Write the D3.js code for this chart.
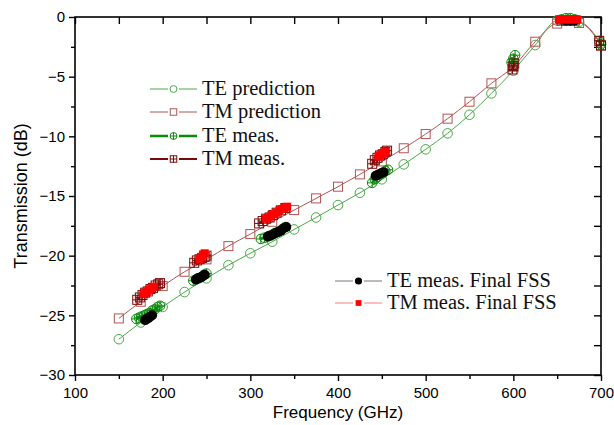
<!DOCTYPE html>
<html>
<head>
<meta charset="utf-8">
<script src="https://cdn.jsdelivr.net/npm/d3@7"></script>
<style>
  body { margin: 0; background: #fff; }
</style>
</head>
<body>
<svg id="chart" width="614" height="425"></svg>
<script>
// prediction curves (simulated), every 25 GHz
var predFreq = [150,175,200,225,250,275,300,325,350,375,400,425,450,475,500,525,550,575,600,625,650,675,700];
var tePred = [-27.0,-25.6,-24.3,-23.05,-21.9,-20.8,-19.8,-18.83,-17.8,-16.8,-15.76,-14.73,-13.6,-12.35,-11.09,-9.75,-8.19,-6.4,-4.5,-2.35,-0.3,-0.4,-2.2];
var tmPred = [-25.26,-23.86,-22.55,-21.35,-20.31,-19.2,-18.19,-17.16,-16.18,-15.2,-14.22,-13.19,-12.1,-11.0,-9.81,-8.52,-7.1,-5.56,-4.17,-2.07,-0.55,-0.5,-2.35];

// measured bands
var teMeasFreq = [170,173,176,179,182,185,188,191,194,197, 235,238,241,244,247,250, 312,316,320,324,328,332,336,340, 439,442,445,448,451,454,457, 598,600,602, 655,660,665,670, 698,700];
var teMeasVal  = [-25.3,-25.2,-25.1,-25.0,-24.9,-24.8,-24.6,-24.5,-24.3,-24.2, -22.1,-22.0,-21.9,-21.8,-21.6,-21.5, -18.6,-18.5,-18.4,-18.3,-18.1,-18.0,-17.8,-17.6, -13.9,-13.6,-13.4,-13.2,-13.1,-12.9,-12.8, -3.8,-3.5,-3.2, -0.2,-0.1,-0.1,-0.2, -2.0,-2.3];
var tmMeasFreq = [171,174,177,180,183,186,189,192,195,197, 236,239,242,245,248,250, 310,314,318,322,326,330,335,340, 439,442,445,448,451,454,456, 599,600,601, 655,660,665,670, 698,700];
var tmMeasVal  = [-23.7,-23.5,-23.3,-23.1,-23.0,-22.8,-22.7,-22.5,-22.4,-22.3, -20.6,-20.4,-20.3,-20.2,-20.1,-20.0, -17.3,-17.1,-16.9,-16.8,-16.6,-16.4,-16.2,-16.0, -12.3,-12.0,-11.8,-11.6,-11.5,-11.3,-11.2, -4.4,-4.1,-3.9, -0.3,-0.3,-0.3,-0.3, -2.0,-2.4];

// final FSS measurements
var teFinalFreq = [180,182,184,186,188, 238,240,242,244,246,248, 320,323,326,329,332,335,338,341, 443,446,449,452, 660,665,670];
var teFinalVal  = [-25.4,-25.3,-25.2,-25.1,-25.0, -22.0,-21.9,-21.85,-21.8,-21.7,-21.6, -18.4,-18.3,-18.2,-18.1,-18.0,-17.9,-17.7,-17.6, -13.3,-13.2,-13.1,-13.0, -0.3,-0.3,-0.3];
var tmFinalFreq = [178,180,182,184,186,188,190, 242,244,246,248, 318,321,324,327,330,333,336,339,342, 446,448,450,452,454, 652,655,658,661,664,667,670,673];
var tmFinalVal  = [-23.2,-23.1,-23.0,-22.9,-22.8,-22.7,-22.6, -20.3,-20.1,-19.9,-19.8, -16.9,-16.8,-16.6,-16.5,-16.4,-16.2,-16.1,-16.0,-15.9, -11.7,-11.6,-11.5,-11.4,-11.3, -0.2,-0.2,-0.2,-0.2,-0.2,-0.2,-0.2,-0.2];

var xTicks = [100,200,300,400,500,600,700];
var xMinor = [150,250,350,450,550,650];
var yTicks = [-30,-25,-20,-15,-10,-5,0];
var yMinor = [-27.5,-22.5,-17.5,-12.5,-7.5,-2.5];

var svg = d3.select("#chart");
var x = d3.scaleLinear().domain([100,700]).range([75,601]);
var y = d3.scaleLinear().domain([-30,0]).range([375,17]);

var sans = "'Liberation Sans', Arial, sans-serif";
var serif = "'Liberation Serif', 'Times New Roman', serif";

// axes
function styleAxis(g){
  g.select(".domain").remove();
  g.selectAll("line").attr("stroke","#000").attr("stroke-width",1.4);
  g.selectAll("text").attr("font-family",sans).attr("font-size","15px").attr("fill","#000");
}
svg.append("g").attr("transform","translate(0,375)")
  .call(d3.axisBottom(x).tickValues(xTicks).tickSize(6).tickPadding(6).tickFormat(d3.format("d")))
  .call(styleAxis);
svg.append("g").attr("transform","translate(0,375)")
  .call(d3.axisBottom(x).tickValues(xMinor).tickSize(4).tickFormat(""))
  .call(styleAxis);
svg.append("g").attr("transform","translate(75,0)")
  .call(d3.axisLeft(y).tickValues(yTicks).tickSize(6).tickPadding(4).tickFormat(d3.format("d")))
  .call(styleAxis);
svg.append("g").attr("transform","translate(75,0)")
  .call(d3.axisLeft(y).tickValues(yMinor).tickSize(4).tickFormat(""))
  .call(styleAxis);
svg.append("g").attr("transform","translate(0,17)")
  .call(d3.axisTop(x).tickValues(xTicks.concat(xMinor)).tickSize(-7).tickFormat(""))
  .call(styleAxis);
svg.append("g").attr("transform","translate(601,0)")
  .call(d3.axisRight(y).tickValues(yTicks.concat(yMinor)).tickSize(-7).tickFormat(""))
  .call(styleAxis);

svg.append("rect").attr("x",75).attr("y",17).attr("width",526).attr("height",358)
  .attr("fill","none").attr("stroke","#000").attr("stroke-width",1.6);

svg.append("text").attr("transform","translate(27,196) rotate(-90)")
  .attr("text-anchor","middle").attr("font-family",sans).attr("font-size","18px")
  .text("Transmission (dB)");
svg.append("text").attr("x",338).attr("y",418)
  .attr("text-anchor","middle").attr("font-family",sans).attr("font-size","17px")
  .text("Frequency (GHz)");

// markers (k scales the size, legend markers are smaller)
function openCircle(g, cx, cy, c, k){
  g.append("circle").attr("cx",cx).attr("cy",cy).attr("r",4.8*k)
    .attr("fill","none").attr("stroke",c).attr("stroke-width",1);
}
function openSquare(g, cx, cy, c, k){
  var h = 4.5*k;
  g.append("rect").attr("x",cx-h).attr("y",cy-h).attr("width",2*h).attr("height",2*h)
    .attr("fill","none").attr("stroke",c).attr("stroke-width",1);
}
function crossCircle(g, cx, cy, c, k){
  var h = 4.8*k;
  openCircle(g, cx, cy, c, k);
  g.append("path").attr("d","M"+(cx-h)+","+cy+"h"+(2*h)+"M"+cx+","+(cy-h)+"v"+(2*h))
    .attr("stroke",c).attr("stroke-width",1);
}
function crossSquare(g, cx, cy, c, k){
  var h = 4.5*k;
  openSquare(g, cx, cy, c, k);
  g.append("path").attr("d","M"+(cx-h)+","+cy+"h"+(2*h)+"M"+cx+","+(cy-h)+"v"+(2*h))
    .attr("stroke",c).attr("stroke-width",1);
}
function dot(g, cx, cy, c, k){
  g.append("circle").attr("cx",cx).attr("cy",cy).attr("r",5*k).attr("fill",c);
}
function block(g, cx, cy, c, k){
  var h = 4*k;
  g.append("rect").attr("x",cx-h).attr("y",cy-h).attr("width",2*h).attr("height",2*h).attr("fill",c);
}

// split into bands where the frequency jumps by more than gap
function bands(fs, vs, gap){
  var out = [], cur = [];
  for (var i = 0; i < fs.length; i++){
    if (i > 0 && fs[i] - fs[i-1] > gap){ out.push(cur); cur = []; }
    cur.push([fs[i], vs[i]]);
  }
  out.push(cur);
  return out;
}

function drawSeries(fs, vs, gap, lineColor, lineWidth, markColor, marker, curve){
  var g = svg.append("g");
  var line = d3.line().x(function(d){ return x(d[0]); }).y(function(d){ return y(d[1]); });
  if (curve) line.curve(curve);
  bands(fs, vs, gap).forEach(function(b){
    g.append("path").attr("d", line(b)).attr("fill","none")
      .attr("stroke", lineColor).attr("stroke-width", lineWidth);
  });
  fs.forEach(function(f, i){ marker(g, x(f), y(vs[i]), markColor, 1); });
}

var cTePred = "#4aa84a", cTmPred = "#b05552";
var cTeMeas = "#0a8a0a", cTmMeas = "#7a0a0a";

drawSeries(predFreq, tePred, 1000, cTePred, 1, cTePred, openCircle, d3.curveMonotoneX);
drawSeries(predFreq, tmPred, 1000, cTmPred, 1, cTmPred, openSquare, d3.curveMonotoneX);
drawSeries(teMeasFreq, teMeasVal, 20, cTeMeas, 2, cTeMeas, crossCircle);
drawSeries(tmMeasFreq, tmMeasVal, 20, cTmMeas, 2, cTmMeas, crossSquare);
drawSeries(teFinalFreq, teFinalVal, 20, "#777", 1, "#000", dot);
drawSeries(tmFinalFreq, tmFinalVal, 20, "#f08080", 1, "#ff0000", block);

// legends
function legendRow(lx, ly, label, lineColor, lineWidth, markColor, marker){
  var g = svg.append("g");
  g.append("line").attr("x1",lx).attr("x2",lx+47).attr("y1",ly).attr("y2",ly)
    .attr("stroke",lineColor).attr("stroke-width",lineWidth);
  g.append("rect").attr("x",lx+18).attr("y",ly-5).attr("width",11).attr("height",10).attr("fill","#fff");
  marker(g, lx+23.5, ly, markColor, 0.72);
  g.append("text").attr("x",lx+52).attr("y",ly+6).attr("font-family",serif)
    .attr("font-size","20.5px").attr("fill","#111").text(label);
}
legendRow(150, 89, "TE prediction", cTePred, 1, cTePred, openCircle);
legendRow(150, 112, "TM prediction", cTmPred, 1, cTmPred, openSquare);
legendRow(150, 136, "TE meas.", cTeMeas, 2.5, cTeMeas, crossCircle);
legendRow(150, 159, "TM meas.", cTmMeas, 2, cTmMeas, crossSquare);
legendRow(335, 281, "TE meas. Final FSS", "#777", 1, "#000", dot);
legendRow(335, 303, "TM meas. Final FSS", "#f08080", 1, "#ff0000", block);
</script>
</body>
</html>
